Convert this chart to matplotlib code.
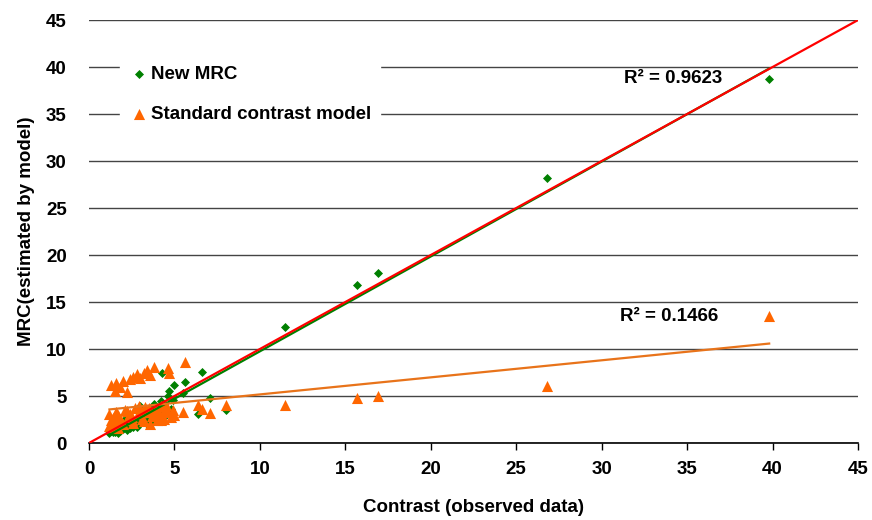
import numpy as np
import matplotlib
matplotlib.use('Agg')
import matplotlib.pyplot as plt

plt.rcParams['font.family'] = ['Liberation Sans', 'DejaVu Sans']
plt.rcParams['font.weight'] = 'bold'

# observed contrast (shared x for both models)
contrast = [1.2, 1.3, 1.4, 1.5, 1.5, 1.6, 1.7, 1.8, 1.9, 2.0,
            2.1, 2.2, 2.3, 2.4, 2.5, 2.6, 2.7, 2.8, 2.9, 3.0,
            3.1, 3.2, 3.3, 3.4, 3.5, 3.6, 3.7, 3.8, 3.9, 4.0,
            4.1, 4.2, 4.3, 4.4, 4.5, 4.6, 4.7, 4.8, 4.9, 5.0,
            1.3, 1.4, 1.6, 1.8, 2.0, 2.2, 2.4, 2.6, 2.9, 3.2,
            3.5, 3.8, 4.2, 4.6, 1.2, 1.7, 2.5, 3.0, 3.6, 4.4,
            5.5, 5.6, 6.4, 6.6, 7.1, 8.0, 11.5, 15.7, 16.9, 26.8, 39.8]

new_mrc = [1.1, 1.3, 1.5, 1.2, 1.8, 1.4, 2.0, 1.6, 2.2, 1.5,
           2.4, 1.8, 2.1, 1.6, 2.6, 2.0, 2.3, 1.7, 2.8, 2.2,
           3.0, 2.5, 3.3, 2.0, 2.9, 3.6, 2.4, 4.2, 3.1, 2.7,
           3.8, 3.3, 7.4, 4.1, 3.0, 5.0, 5.5, 3.6, 4.6, 6.2,
           1.6, 1.2, 1.9, 1.3, 2.3, 1.4, 2.8, 1.7, 2.1, 3.5,
           2.2, 2.8, 4.5, 3.2, 1.4, 1.1, 1.9, 3.9, 2.6, 3.4,
           5.3, 6.5, 3.1, 7.6, 4.8, 3.5, 12.3, 16.8, 18.1, 28.2, 38.7]

standard = [1.8, 6.2, 2.7, 5.5, 2.0, 6.4, 3.0, 6.0, 2.3, 6.6,
            3.5, 5.4, 2.8, 6.8, 2.4, 7.0, 3.7, 7.3, 3.1, 6.9,
            2.6, 7.5, 3.8, 7.8, 3.3, 7.2, 2.9, 8.1, 3.6, 2.5,
            3.2, 3.9, 2.7, 3.4, 4.0, 8.0, 7.4, 2.8, 3.5, 3.0,
            2.4, 1.7, 3.3, 2.6, 2.0, 3.4, 3.1, 2.1, 3.9, 2.3,
            3.7, 3.0, 2.4, 3.3, 3.1, 1.6, 2.8, 3.5, 2.0, 2.6,
            3.3, 8.6, 4.0, 3.6, 3.2, 4.0, 4.0, 4.8, 5.0, 6.1, 13.5]

r2_new = '0.9623'
r2_std = '0.1466'

x = np.array(contrast)
g = np.array(new_mrc)
o = np.array(standard)

FS = 13.5

fig = plt.figure(figsize=(8.72, 5.20), dpi=100)
ax = fig.add_axes([0.102, 0.148, 0.882, 0.8135])

ax.scatter(x, g, marker='D', s=4.6**2, color='#008000', linewidths=0,
           label='New MRC', zorder=3)
ax.scatter(x, o, marker='^', s=8**2, color='#FF6600', linewidths=0,
           label='Standard contrast model', zorder=4)

# linear trendlines over the data range, plus the y = x line
xs = np.array([x.min(), x.max()])
pg = np.polyfit(x, g, 1)
po = np.polyfit(x, o, 1)
ax.plot(xs, np.polyval(pg, xs), color='#008000', lw=1.6, zorder=5)
ax.plot(xs, np.polyval(po, xs), color='#E8731A', lw=1.6, zorder=5)
ax.plot([0, 45], [0, 45], color='#FF0000', lw=1.6, zorder=6)

ax.text(31.3, 38.8, 'R² = ' + r2_new, fontsize=FS, fontweight='bold',
        va='center', ha='left', zorder=7)
ax.text(31.1, 13.5, 'R² = ' + r2_std, fontsize=FS, fontweight='bold',
        va='center', ha='left', zorder=7)

ax.set_xlim(0, 45)
ax.set_ylim(0, 45)
ax.set_xticks(np.arange(0, 46, 5))
ax.set_yticks(np.arange(0, 46, 5))
ax.yaxis.grid(True, color='#444444', lw=1)
ax.set_axisbelow(True)
for s in ['left', 'right', 'top']:
    ax.spines[s].set_visible(False)
ax.spines['bottom'].set_color('black')
ax.spines['bottom'].set_linewidth(1.2)
ax.tick_params(axis='x', length=5, width=1, direction='out', pad=8,
               labelsize=FS)
ax.tick_params(axis='y', length=0, pad=16, labelsize=FS)
for lab in ax.get_xticklabels() + ax.get_yticklabels():
    lab.set_fontweight('bold')

ax.set_xlabel('Contrast (observed data)', fontsize=FS, fontweight='bold',
              labelpad=15)
ax.set_ylabel('MRC(estimated by model)', fontsize=FS, fontweight='bold',
              labelpad=8)

leg = ax.legend(loc='upper left', bbox_to_anchor=(0.028, 0.935), frameon=True,
                fancybox=False, edgecolor='white', facecolor='white',
                framealpha=1, handletextpad=0.15, labelspacing=1.2,
                handlelength=1.0, borderpad=0.5,
                prop={'weight': 'bold', 'size': FS})
leg.set_zorder(2)

fig.savefig('out.png', dpi=100)
